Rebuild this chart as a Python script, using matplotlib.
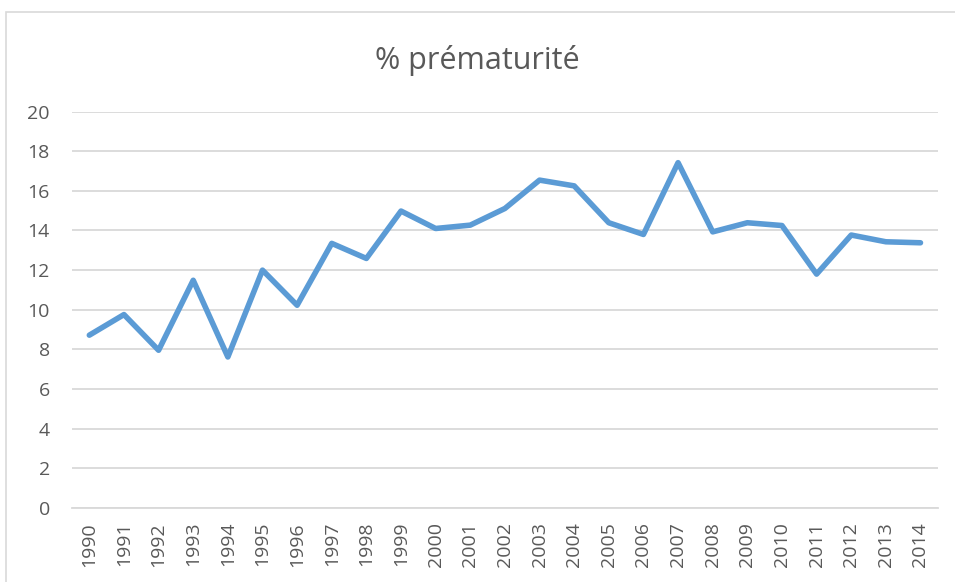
import matplotlib
matplotlib.use('Agg')
import matplotlib.pyplot as plt
from matplotlib.patches import Rectangle

# Data
years = [str(y) for y in range(1990, 2015)]
values = [8.72, 9.76, 7.96, 11.49, 7.62, 12.0, 10.23, 13.35, 12.59, 14.98,
          14.1, 14.27, 15.11, 16.54, 16.25, 14.39, 13.8, 17.42, 13.93, 14.39,
          14.25, 11.8, 13.77, 13.43, 13.38]
y_ticks = [0, 2, 4, 6, 8, 10, 12, 14, 16, 18, 20]

plt.rcParams['font.family'] = ['Open Sans', 'DejaVu Sans']
text_color = '#595959'
grid_color = '#d9d9d9'

fig = plt.figure(figsize=(9.55, 5.82), dpi=100)
ax = fig.add_axes([0.0754, 0.127, 0.9066, 0.6814])

# light border around the chart area
fig.patches.append(Rectangle((6 / 955, -0.1), 1.1, 1.1 - 12 / 582, transform=fig.transFigure,
                             fill=False, edgecolor='#d9d9d9', linewidth=1.2))

x = list(range(len(years)))
ax.plot(x, values, color='#5b9bd5', linewidth=4.0, solid_joinstyle='round',
        solid_capstyle='round', zorder=3)

ax.set_xlim(-0.5, len(years) - 0.5)
ax.set_ylim(0, 20)
ax.set_yticks(y_ticks)
ax.set_xticks(x)
ax.set_xticklabels(years, rotation=90)
ax.yaxis.grid(True, color=grid_color, linewidth=1.3)
ax.set_axisbelow(True)
for s in ['top', 'right', 'left']:
    ax.spines[s].set_visible(False)
ax.spines['bottom'].set_color(grid_color)
ax.spines['bottom'].set_linewidth(1.3)
ax.tick_params(axis='both', length=0, labelsize=14, colors=text_color)
ax.tick_params(axis='x', pad=10)
ax.tick_params(axis='y', pad=16)

fig.text(0.5, 1 - 60 / 582, '% prématurité', ha='center', va='center',
         fontsize=22, color=text_color)

fig.savefig('out.png', dpi=100)
